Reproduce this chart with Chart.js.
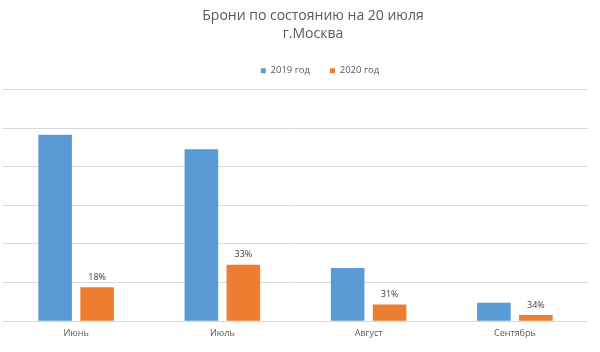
<!DOCTYPE html>
<html>
<head>
<meta charset="utf-8">
<script src="https://cdn.jsdelivr.net/npm/chart.js@4/dist/chart.umd.min.js"></script>
<style>
  html, body { margin: 0; padding: 0; background: #ffffff; }
  #wrap { width: 600px; height: 352px; position: relative; }
</style>
</head>
<body>
<div id="wrap"><canvas id="c"></canvas></div>
<script>
// ---- data ----
const titleLines = ['Брони по состоянию на 20 июля', 'г.Москва'];
const categories = ['Июнь', 'Июль', 'Август', 'Сентябрь'];
const seriesNames = ['2019 год', '2020 год'];
const values2019 = [4830, 4450, 1380, 475];
const values2020 = [880, 1460, 430, 160];
const labels2020 = ['18%', '33%', '31%', '34%'];
const yTicksMax = 6000;
const yTicksStep = 1000;

const FONT = "'Open Sans', 'DejaVu Sans', sans-serif";
const TEXT = '#595959';

// shift title / legend horizontally (and legend vertically) after layout
const shiftPlugin = {
  id: 'shiftBlocks',
  afterLayout(chart) {
    const t = chart.titleBlock;
    if (t) {
      const dx = 313 - (t.left + t.right) / 2;
      t.left += dx; t.right += dx;
    }
    const l = chart.legend;
    if (l) {
      const dx = 320 - (l.left + l.right) / 2;
      l.left += dx; l.right += dx;
      l.top -= 4; l.bottom -= 4;
    }
  }
};

// value labels above 2020 bars
const barLabelPlugin = {
  id: 'barLabels',
  afterDatasetsDraw(chart) {
    const meta = chart.getDatasetMeta(1);
    const ctx = chart.ctx;
    ctx.save();
    ctx.font = "9px " + FONT;
    ctx.fillStyle = '#404040';
    ctx.textAlign = 'center';
    ctx.textBaseline = 'middle';
    meta.data.forEach((bar, i) => {
      ctx.fillText(labels2020[i], bar.x, bar.y - 10);
    });
    ctx.restore();
  }
};

new Chart(document.getElementById('c'), {
  type: 'bar',
  data: {
    labels: categories,
    datasets: [
      { label: seriesNames[0], data: values2019, backgroundColor: '#5b9bd5',
        categoryPercentage: 0.574, barPercentage: 0.8 },
      { label: seriesNames[1], data: values2020, backgroundColor: '#ed7d31',
        categoryPercentage: 0.574, barPercentage: 0.8 }
    ]
  },
  options: {
    responsive: true,
    maintainAspectRatio: false,
    animation: false,
    layout: { padding: { left: 3, right: 12, top: 0, bottom: 6 } },
    plugins: {
      title: {
        display: true,
        text: titleLines,
        color: TEXT,
        font: { family: FONT, size: 14, weight: 'normal', lineHeight: '18px' },
        padding: { top: 7, bottom: 7 }
      },
      legend: {
        display: true,
        position: 'top',
        labels: {
          color: TEXT,
          font: { family: FONT, size: 9.5 },
          boxWidth: 5,
          boxHeight: 5,
          padding: 20
        }
      },
      tooltip: { enabled: false }
    },
    scales: {
      x: {
        grid: { display: false, drawTicks: false },
        border: { display: false },
        ticks: { color: TEXT, font: { family: FONT, size: 9 }, padding: 7 }
      },
      y: {
        min: 0,
        max: yTicksMax,
        ticks: { display: false, stepSize: yTicksStep },
        grid: { color: '#d9d9d9', lineWidth: 1, drawTicks: false },
        border: { display: false }
      }
    }
  },
  plugins: [shiftPlugin, barLabelPlugin]
});
</script>
</body>
</html>
